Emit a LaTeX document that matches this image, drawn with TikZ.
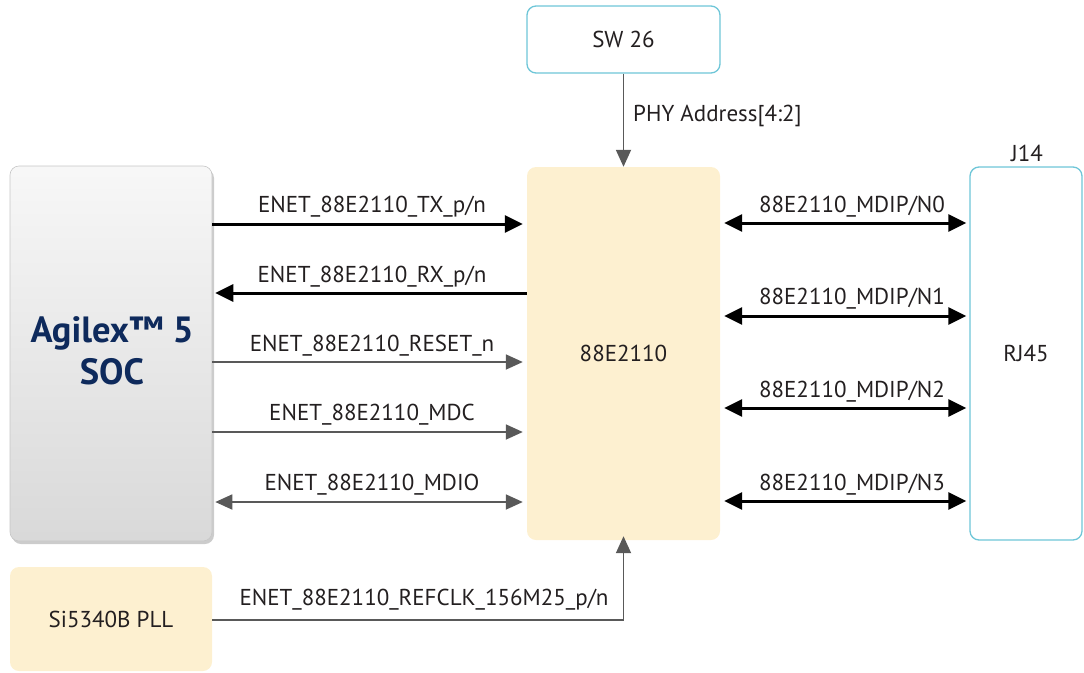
\documentclass[tikz,border=0pt]{standalone}
\usepackage{fontspec}
\setmainfont{PT Sans}
\usetikzlibrary{arrows.meta,shadows,calc}
\definecolor{blueline}{HTML}{6EC6D8}
\definecolor{phyfill}{HTML}{FDF0D0}
\definecolor{txt}{HTML}{231F20}
\definecolor{navy}{HTML}{0E2A5C}
\definecolor{garrow}{HTML}{595959}
\begin{document}
\begin{tikzpicture}[x=1pt,y=-1pt,
  font=\fontsize{23}{27}\selectfont, text=txt,
  box/.style={rectangle, rounded corners=9pt, inner sep=0pt},
  bluebox/.style={box, draw=blueline, line width=1.3pt, fill=white},
  yelbox/.style={box, fill=phyfill},
  bus/.style={line width=3pt, draw=black, -{Triangle[length=18pt,width=17pt]}},
  busb/.style={line width=3pt, draw=black, {Triangle[length=18pt,width=17pt]}-{Triangle[length=18pt,width=17pt]}},
  sig/.style={line width=1.8pt, draw=garrow, -{Triangle[length=17pt,width=15pt]}},
  sigb/.style={line width=1.8pt, draw=garrow, {Triangle[length=17pt,width=15pt]}-{Triangle[length=17pt,width=15pt]}},
  lbl/.style={inner sep=0pt}
]
\useasboundingbox (0,0) rectangle (1084,672);
% boxes
\node[box, minimum width=202pt, minimum height=375pt, top color=gray!6, bottom color=gray!30, draw=gray!45, line width=0.6pt,
  drop shadow={shadow xshift=2pt, shadow yshift=-3pt, opacity=0.4}] (soc) at (111,353.5) {};
\node[text=navy, font=\fontsize{36.5}{42}\selectfont\bfseries, align=center] (soct) at (112,351) {Agilex™ 5\\SOC};
\node[yelbox, minimum width=193pt, minimum height=373pt] (phy) at (623.5,353.5) {88E2110};
\node[bluebox, minimum width=193pt, minimum height=67pt] (sw) at (623.5,39.5) {SW 26};
\node[bluebox, minimum width=112pt, minimum height=373pt] (rj) at (1026,353.5) {RJ45};
\node[lbl] (j14) at (1027,153) {J14};
\node[yelbox, minimum width=202pt, minimum height=104pt] (pll) at (111,619) {Si5340B PLL};
% SW -> PHY
\draw[sig] (sw.south) -- (phy.north);
\node[lbl, anchor=west] (phyaddr) at (633,116) {PHY Address[4:2]};
% left signals
\draw[bus] (soc.east |- 0,224) -- ([xshift=-4pt]phy.west |- 0,224);
\node[lbl] (l1) at (372,207) {ENET\_88E2110\_TX\_p/n};
\draw[bus] (phy.west |- 0,293) -- ([xshift=3pt]soc.east |- 0,293);
\node[lbl] (l2) at (372,277) {ENET\_88E2110\_RX\_p/n};
\draw[sig] (soc.east |- 0,362) -- ([xshift=-4pt]phy.west |- 0,362);
\node[lbl] (l3) at (372,346) {ENET\_88E2110\_RESET\_n};
\draw[sig] (soc.east |- 0,432) -- ([xshift=-4pt]phy.west |- 0,432);
\node[lbl] (l4) at (372,415) {ENET\_88E2110\_MDC};
\draw[sigb] ([xshift=3pt]soc.east |- 0,502) -- ([xshift=-4pt]phy.west |- 0,502);
\node[lbl] (l5) at (372,485) {ENET\_88E2110\_MDIO};
% right signals
\draw[busb] ([xshift=4pt]phy.east |- 0,223) -- ([xshift=-3pt]rj.west |- 0,223);
\node[lbl] (r1) at (852,207) {88E2110\_MDIP/N0};
\draw[busb] ([xshift=4pt]phy.east |- 0,316) -- ([xshift=-3pt]rj.west |- 0,316);
\node[lbl] (r2) at (852,299) {88E2110\_MDIP/N1};
\draw[busb] ([xshift=4pt]phy.east |- 0,408) -- ([xshift=-3pt]rj.west |- 0,408);
\node[lbl] (r3) at (852,392) {88E2110\_MDIP/N2};
\draw[busb] ([xshift=4pt]phy.east |- 0,501) -- ([xshift=-3pt]rj.west |- 0,501);
\node[lbl] (r4) at (852,485) {88E2110\_MDIP/N3};
% refclk
\draw[sig] (pll.east |- 0,620) -| ([yshift=4pt]phy.south);
\node[lbl] (rc) at (424,600) {ENET\_88E2110\_REFCLK\_156M25\_p/n};
\end{tikzpicture}
\end{document}
